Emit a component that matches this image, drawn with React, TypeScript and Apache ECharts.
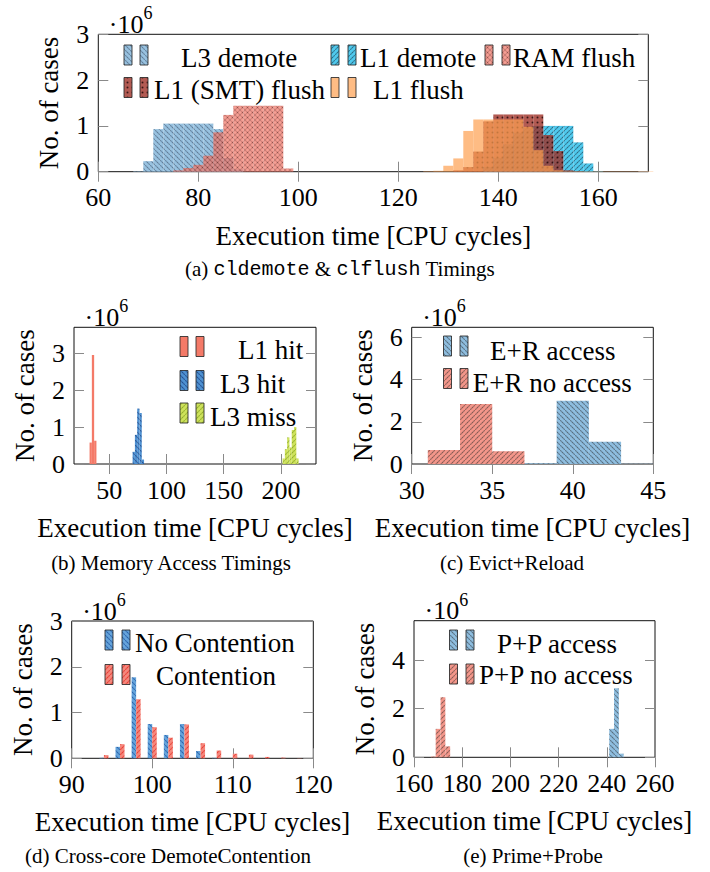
import React, { useEffect, useRef } from 'react';
import * as echarts from 'echarts';

const SERIF = '"Liberation Serif", "Times New Roman", serif';
const MONO = '"Liberation Mono", "Courier New", monospace';

// ---------- (a) cldemote & clflush timings (values in 10^6 cases, bins of 2 cycles) ----------
const aBinWidth = 2;
const aXTicks = [60, 80, 100, 120, 140, 160];
const aYTicks = [0, 1, 2, 3];
const aL3DemoteStart = 67;
const aL3Demote = [0.01, 0.23, 0.93, 1.05, 1.05, 1.05, 1.05, 1.05, 0.93, 0.3, 0.05];
const aL1DemoteStart = 137;
const aL1Demote = [0.1, 0.3, 0.6, 0.85, 0.95, 1.0, 1.0, 1.0, 1.0, 0.64, 0.18, 0.01];
const aRamFlushStart = 75;
const aRamFlush = [0.03, 0.08, 0.15, 0.35, 0.86, 1.24, 1.44, 1.44, 1.44, 1.44, 1.44, 0.07];
const aSmtFlushStart = 131;
const aSmtFlush = [0.03, 0.1, 0.44, 1.1, 1.25, 1.25, 1.25, 1.25, 1.25, 0.8, 0.45, 0.03, 0.01];
const aL1FlushStart = 125;
const aL1Flush = [0.01, 0.02, 0.13, 0.29, 0.89, 1.14, 1.14, 1.14, 1.14, 1.14, 0.98, 0.47, 0.13, 0.03,
  0.008, 0.008, 0.008, 0.008, 0.008, 0.008, 0.008, 0.008, 0.008];

// ---------- (b) memory access timings ----------
const bBinWidth = 2;
const bXTicks = [50, 100, 150, 200];
const bYTicks = [0, 1, 2, 3];
const bL1HitStart = 32.8;
const bL1Hit = [0.58, 2.95, 0.63];
const bL3HitStart = 70.4;
const bL3Hit = [0.33, 0.79, 1.5, 1.38, 0.12];
const bL3MissStart = 201.4;
const bL3Miss = [0.15, 0.4, 0.72, 0.45, 0.92, 1.0, 0.15];

// ---------- (c) Evict+Reload ----------
const cBinWidth = 2;
const cXTicks = [30, 35, 40, 45];
const cYTicks = [0, 2, 4, 6];
const cAccessStart = 37;
const cAccess = [0.04, 3.0, 1.05, 0.01];
const cNoAccessStart = 31;
const cNoAccess = [0.66, 2.84, 0.6];

// ---------- (d) cross-core DemoteContention ----------
const dXTicks = [90, 100, 110, 120];
const dYTicks = [0, 1, 2, 3];
const dCycles = [94, 96, 98, 100, 102, 104, 106, 108, 110, 112, 114, 116, 118];
const dNoContention = [0.01, 0.25, 1.77, 0.75, 0.51, 0.75, 0.16, 0.01, 0, 0, 0, 0, 0];
const dContention = [0.07, 0.31, 1.29, 0.68, 0.45, 0.74, 0.33, 0.17, 0.1, 0.08, 0.03, 0.015, 0.005];
const dBarWidth = 0.56;

// ---------- (e) Prime+Probe ----------
const eBinWidth = 2;
const eXTicks = [160, 180, 200, 220, 240, 260];
const eYTicks = [0, 2, 4];
const eAccessStart = 241;
const eAccess = [1.17, 2.84, 0.15];
const eNoAccessStart = 167;
const eNoAccess = [0.03, 1.17, 2.47, 0.45];

function bins(start: number, width: number, vals: number[]) {
  return vals.map((v, i) => [start + i * width, start + (i + 1) * width, v]);
}

type Kind = 'none' | 'ne' | 'nw' | 'cross' | 'dots';
function makePattern(bg: string, kind: Kind, ink: string, p = 5, lw = 0.7, r = 0.8) {
  const S = 6;
  const c = document.createElement('canvas');
  c.width = p * S;
  c.height = p * S;
  const g = c.getContext('2d')!;
  g.scale(S, S);
  g.fillStyle = bg;
  g.fillRect(0, 0, p, p);
  g.strokeStyle = ink;
  g.lineWidth = lw;
  if (kind === 'ne' || kind === 'cross') {
    for (const k of [-1, 0, 1]) {
      g.beginPath();
      g.moveTo(k * p, p);
      g.lineTo(k * p + p, 0);
      g.stroke();
    }
  }
  if (kind === 'nw' || kind === 'cross') {
    for (const k of [-1, 0, 1]) {
      g.beginPath();
      g.moveTo(k * p, 0);
      g.lineTo(k * p + p, p);
      g.stroke();
    }
  }
  if (kind === 'dots') {
    g.fillStyle = ink;
    g.beginPath();
    g.arc(p / 2, p / 2, r, 0, Math.PI * 2);
    g.fill();
  }
  return { image: c.toDataURL(), repeat: 'repeat', imageWidth: p, imageHeight: p };
}

const GRIDS = [
  { left: 98.3, top: 34.3, width: 550, height: 137.4 },
  { left: 74, top: 327.3, width: 242, height: 136.7 },
  { left: 411.7, top: 327.3, width: 241.6, height: 136.7 },
  { left: 71.7, top: 621, width: 241.6, height: 137.3 },
  { left: 414, top: 620.7, width: 241, height: 136.6 },
];

function buildOption() {
  const P = {
    l3demote: makePattern('rgba(148,192,223,0.95)', 'nw', 'rgba(25,35,55,0.6)', 5, 0.6),
    l1demote: makePattern('rgba(72,200,238,0.95)', 'ne', 'rgba(20,30,45,0.75)', 5, 0.6),
    ram: makePattern('rgba(247,125,110,0.72)', 'cross', 'rgba(70,25,25,0.55)', 5, 0.5),
    smt: makePattern('rgba(160,50,40,0.8)', 'dots', 'rgba(35,10,10,0.9)', 5, 0.7, 0.8),
    l1flush: makePattern('rgba(253,160,80,0.7)', 'none', '#000'),
    l1hit: makePattern('#f47a68', 'none', '#000'),
    l3hit: makePattern('#4f92d2', 'nw', '#16377a', 5, 0.6),
    l3miss: makePattern('#cfe35c', 'ne', '#7d9a1c', 5, 0.6),
    access: makePattern('#8fbfe1', 'nw', 'rgba(40,40,40,0.75)', 5, 0.6),
    noaccess: makePattern('#f5978b', 'ne', 'rgba(40,40,40,0.75)', 5, 0.6),
    nocont: makePattern('#66a5dc', 'nw', '#16479a', 5, 0.6),
    cont: makePattern('#f5887d', 'ne', '#e5221a', 5, 0.6),
  };

  const xAxes: any[] = [];
  const yAxes: any[] = [];
  const axisSpecs = [
    { xmin: 60, xmax: 170, xt: aXTicks, ymax: 3, yt: aYTicks },
    { xmin: 19.2, xmax: 230.6, xt: bXTicks, ymax: 3.7, yt: bYTicks },
    { xmin: 30, xmax: 45, xt: cXTicks, ymax: 6.48, yt: cYTicks },
    { xmin: 90, xmax: 120, xt: dXTicks, ymax: 3, yt: dYTicks },
    { xmin: 160, xmax: 260, xt: eXTicks, ymax: 5.62, yt: eYTicks },
  ];
  const tickLine = { color: '#8a8a8a', width: 1 };
  axisSpecs.forEach((s, gi) => {
    for (const pos of ['bottom', 'top']) {
      xAxes.push({
        type: 'value', gridIndex: gi, position: pos, min: s.xmin, max: s.xmax,
        axisLine: { show: false },
        splitLine: { show: false },
        axisTick: { show: true, inside: false, length: 10, lineStyle: tickLine, customValues: s.xt },
        axisLabel: {
          show: pos === 'bottom', customValues: s.xt, margin: 13,
          fontSize: 26, fontFamily: SERIF, color: '#000',
        },
      });
    }
    for (const pos of ['left', 'right']) {
      yAxes.push({
        type: 'value', gridIndex: gi, position: pos, min: 0, max: s.ymax,
        axisLine: { show: false },
        splitLine: { show: false },
        axisTick: { show: true, inside: true, length: 10, lineStyle: tickLine, customValues: s.yt },
        axisLabel: {
          show: pos === 'left', customValues: s.yt, margin: 9,
          fontSize: 26, fontFamily: SERIF, color: '#000',
        },
      });
    }
  });

  const hist = (gi: number, data: number[][], fill: any) => ({
    type: 'custom', xAxisIndex: 2 * gi, yAxisIndex: 2 * gi, data,
    encode: { x: [0, 1], y: 2 }, silent: true,
    renderItem: (_p: any, api: any) => {
      const a = api.coord([api.value(0), api.value(2)]);
      const b = api.coord([api.value(1), 0]);
      return {
        type: 'rect',
        shape: { x: a[0], y: a[1], width: b[0] - a[0], height: b[1] - a[1] },
        style: { fill },
      };
    },
  });

  const series = [
    hist(0, bins(aL3DemoteStart, aBinWidth, aL3Demote), P.l3demote),
    hist(0, bins(aL1DemoteStart, aBinWidth, aL1Demote), P.l1demote),
    hist(0, bins(aRamFlushStart, aBinWidth, aRamFlush), P.ram),
    hist(0, bins(aSmtFlushStart, aBinWidth, aSmtFlush), P.smt),
    hist(0, bins(aL1FlushStart, aBinWidth, aL1Flush), P.l1flush),
    hist(1, bins(bL1HitStart, bBinWidth, bL1Hit), P.l1hit),
    hist(1, bins(bL3HitStart, bBinWidth, bL3Hit), P.l3hit),
    hist(1, bins(bL3MissStart, bBinWidth, bL3Miss), P.l3miss),
    hist(2, bins(cAccessStart, cBinWidth, cAccess), P.access),
    hist(2, bins(cNoAccessStart, cBinWidth, cNoAccess), P.noaccess),
    hist(3, dCycles.map((x, i) => [x - dBarWidth, x, dNoContention[i]]), P.nocont),
    hist(3, dCycles.map((x, i) => [x, x + dBarWidth, dContention[i]]), P.cont),
    hist(4, bins(eAccessStart, eBinWidth, eAccess), P.access),
    hist(4, bins(eNoAccessStart, eBinWidth, eNoAccess), P.noaccess),
  ];

  const el: any[] = [];
  const text = (x: number, y: number, t: string, size: number, align = 'left', extra: any = {}) =>
    el.push({
      type: 'text', x, y, silent: true, ...extra,
      style: { text: t, fontSize: size, fontFamily: SERIF, fill: '#000', align, verticalAlign: 'middle' },
    });
  const swatch = (x1: number, x2: number, cy: number, fill: any) => {
    for (const x of [x1, x2]) {
      el.push({
        type: 'rect', silent: true,
        shape: { x, y: cy - 10, width: 8, height: 20 },
        style: { fill, stroke: 'rgba(40,40,40,0.85)', lineWidth: 1 },
      });
    }
  };
  const legend = (x1: number, x2: number, cy: number, fill: any, label: string, tx: number, ty: number) => {
    swatch(x1, x2, cy, fill);
    text(tx, ty, label, 27);
  };

  // legends
  legend(124, 140, 55, P.l3demote, 'L3 demote', 181, 57.5);
  legend(331, 348, 55, P.l1demote, 'L1 demote', 360, 57.5);
  legend(485, 502, 55, P.ram, 'RAM flush', 513, 57.5);
  legend(124, 140, 87.5, P.smt, 'L1 (SMT) flush', 154, 90);
  legend(331, 348, 87.5, P.l1flush, 'L1 flush', 373, 90);

  legend(180, 196, 346.5, P.l1hit, 'L1 hit', 238, 350);
  legend(180, 196, 380.5, P.l3hit, 'L3 hit', 220, 384);
  legend(180, 196, 413, P.l3miss, 'L3 miss', 210, 416.5);

  legend(443.5, 460, 346, P.access, 'E+R access', 490, 350.5);
  legend(443.5, 460, 378.5, P.noaccess, 'E+R no access', 472.7, 382.5);

  legend(105, 122, 640, P.nocont, 'No Contention', 135, 643);
  legend(105, 122, 674.5, P.cont, 'Contention', 156, 675.7);

  legend(449.5, 466, 640, P.access, 'P+P access', 497, 644);
  legend(449.5, 466, 674, P.noaccess, 'P+P no access', 479, 675);

  // axis titles, multipliers
  GRIDS.forEach((g) => {
    const cx = g.left + g.width / 2;
    const bottom = g.top + g.height;
    text(cx, bottom + 64, 'Execution time [CPU cycles]', 27, 'center');
    text(g.left - 49, g.top + g.height / 2, 'No. of cases', 27, 'center', { rotation: Math.PI / 2 });
    el.push({
      type: 'text', x: g.left + 10.5, y: g.top - 30, silent: true,
      style: {
        text: '{b|\u00B710}{s|6}', align: 'left', verticalAlign: 'top', fill: '#000',
        rich: {
          b: { fontSize: 26, fontFamily: SERIF, fill: '#000', padding: [7, 0, 0, 0], verticalAlign: 'bottom' },
          s: { fontSize: 18, fontFamily: SERIF, fill: '#000', verticalAlign: 'top' },
        },
      },
    });
  });

  // captions
  el.push({
    type: 'text', x: 340, y: 269, silent: true,
    style: {
      text: '{n|(a) }{m|cldemote}{n| & }{m|clflush}{n| Timings}',
      align: 'center', verticalAlign: 'middle', fill: '#000',
      rich: {
        n: { fontFamily: SERIF, fontSize: 21, fill: '#000' },
        m: { fontFamily: MONO, fontSize: 20, fill: '#000' },
      },
    },
  });
  text(171, 563, '(b) Memory Access Timings', 21, 'center');
  text(512, 563, '(c) Evict+Reload', 21, 'center');
  text(168, 856, '(d) Cross-core DemoteContention', 21, 'center');
  text(533, 856, '(e) Prime+Probe', 21, 'center');

  return {
    animation: false,
    backgroundColor: '#fff',
    grid: GRIDS.map((g) => ({ ...g, show: true, borderColor: '#111', borderWidth: 1, backgroundColor: 'transparent', containLabel: false })),
    xAxis: xAxes,
    yAxis: yAxes,
    series,
    graphic: { elements: el },
  };
}

export default function App() {
  const ref = useRef<HTMLDivElement>(null);
  useEffect(() => {
    const chart = echarts.init(ref.current!, null, { renderer: 'svg', width: 710, height: 872 });
    chart.setOption(buildOption() as any);
    return () => chart.dispose();
  }, []);
  return (
    <div
      ref={ref}
      style={{ position: 'absolute', left: 0, top: 0, width: 710, height: 872, background: '#fff' }}
    />
  );
}
